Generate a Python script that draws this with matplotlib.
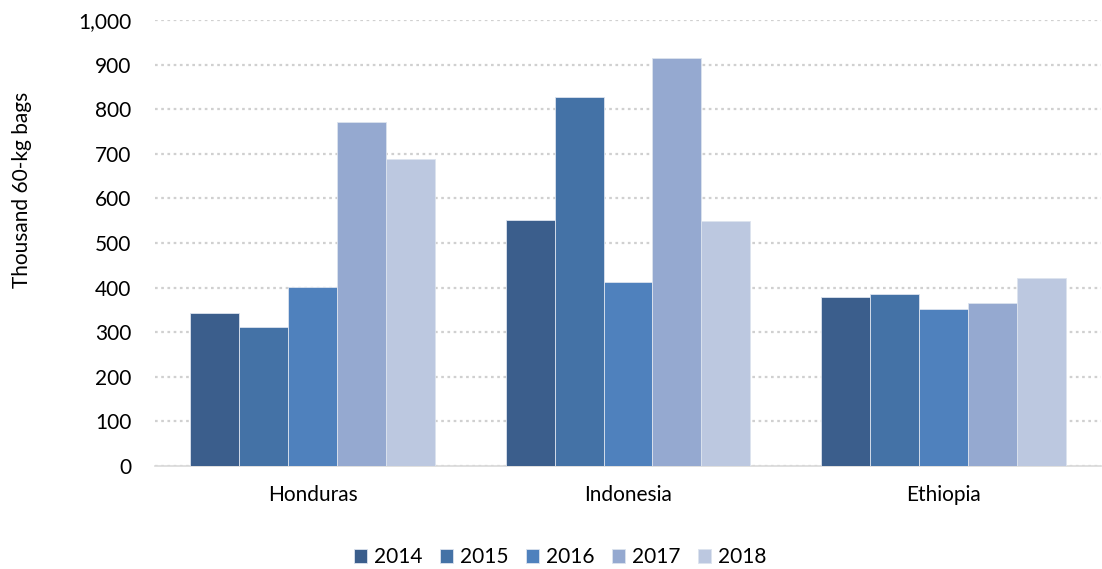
import numpy as np
import matplotlib
matplotlib.use('Agg')
import matplotlib.pyplot as plt
from matplotlib.ticker import FuncFormatter

plt.rcParams['font.family'] = ['Lato', 'DejaVu Sans']

countries = ['Honduras', 'Indonesia', 'Ethiopia']
years = ['2014', '2015', '2016', '2017', '2018']
values_2014 = [342, 551, 380]
values_2015 = [311, 828, 385]
values_2016 = [402, 412, 352]
values_2017 = [771, 915, 365]
values_2018 = [688, 549, 421]
colors = ['#3B5E8C', '#4472A6', '#4F81BD', '#95A9D0', '#BCC8E0']

series = [values_2014, values_2015, values_2016, values_2017, values_2018]

fig = plt.figure(figsize=(11.02, 5.69), dpi=100)
ax = fig.add_axes([155 / 1102, 1 - 466 / 569, 946 / 1102, 446 / 569])

x = np.arange(len(countries))
bw = 0.775 / len(years)
for i, (vals, yr, c) in enumerate(zip(series, years, colors)):
    ax.bar(x + (i - 2) * bw, vals, width=bw, color=c, label=yr,
           edgecolor='#DCE3EE', linewidth=0.6, zorder=3)

ax.set_xlim(-0.5, 2.5)
ax.set_ylim(0, 1000)
ax.set_yticks(np.arange(0, 1001, 100))
ax.yaxis.set_major_formatter(FuncFormatter(lambda v, p: f'{int(v):,}'))
ax.set_xticks(x)
ax.set_xticklabels(countries)
ax.tick_params(axis='both', length=0, labelsize=15, colors='#000000')
ax.tick_params(axis='y', pad=17)
ax.tick_params(axis='x', pad=14)
ax.grid(axis='y', color='#D0D0D0', linestyle=(0, (1.2, 1.6)), linewidth=1.6, zorder=0)
for s in ['top', 'right', 'left']:
    ax.spines[s].set_visible(False)
ax.spines['bottom'].set_color('#D9D9D9')
ax.spines['bottom'].set_linewidth(1.2)

fig.text(22 / 1102, 1 - 190 / 569, 'Thousand 60-kg bags', rotation=90,
         ha='center', va='center', fontsize=15)

ax.legend(loc='center', bbox_to_anchor=(0.428, -0.204), ncol=5, frameon=False,
          fontsize=15, handlelength=0.65, handleheight=0.65, handletextpad=0.3,
          columnspacing=0.85)

fig.savefig('out.png', dpi=100)
